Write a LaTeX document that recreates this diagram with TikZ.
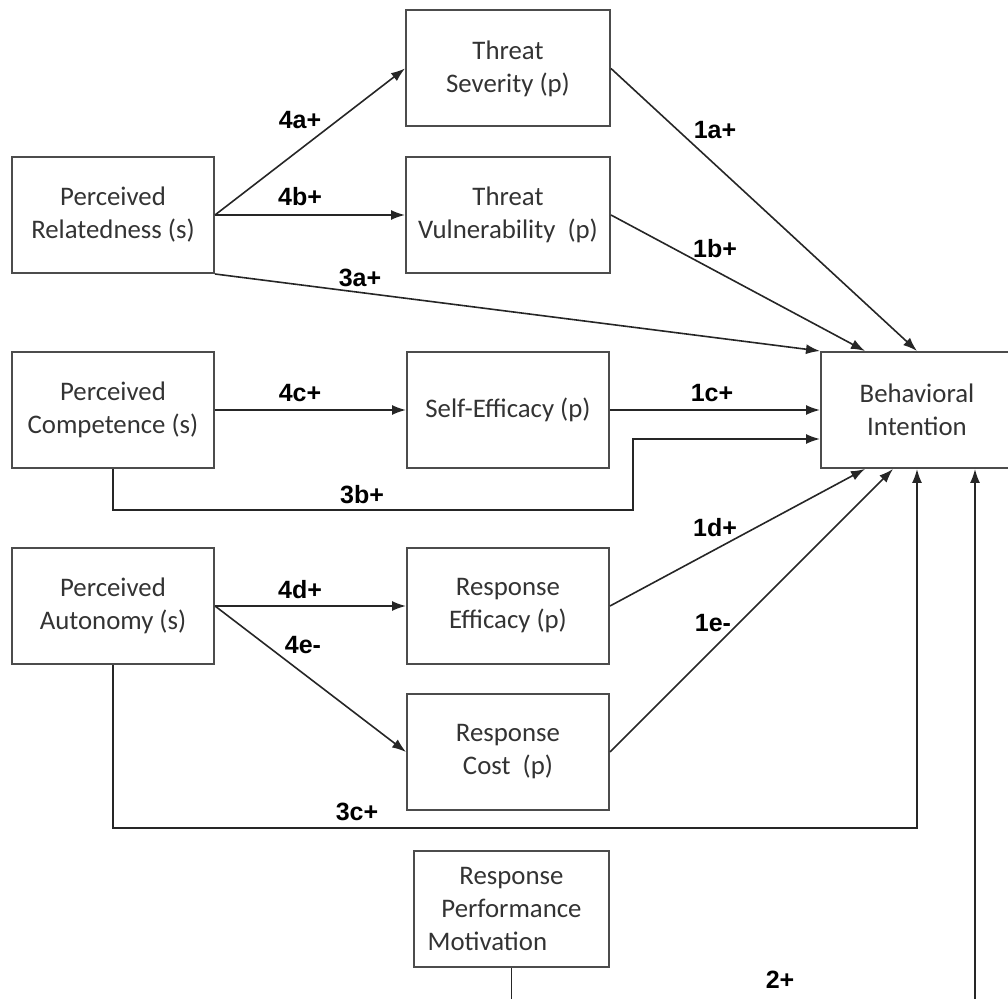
\documentclass[tikz,border=0pt]{standalone}
\usepackage{fontspec}
\setmainfont{Carlito}
\newfontfamily\labelfont{Liberation Sans}
\usetikzlibrary{arrows.meta}

\begin{document}
\begin{tikzpicture}[x=0.5pt, y=-0.5pt, >={Latex[length=7pt,width=5pt]},
    box/.style={draw=black!70, line width=1pt, align=center, minimum width=101pt,
      minimum height=58pt, inner sep=2pt, text=black!80,
      font=\fontsize{13.4}{16.5}\selectfont},
    link/.style={draw=black!85, line width=0.8pt, ->},
    lbl/.style={font=\labelfont\bfseries\fontsize{12.5}{14}\selectfont}]
    \useasboundingbox (0,0) rectangle (1008,999);
    \clip (0,0) rectangle (1008,999);

    % constructs
    \node[box] (rel) at (113,215) {Perceived\\Relatedness (s)};
    \node[box] (comp) at (113,410) {Perceived\\Competence (s)};
    \node[box] (auton) at (113,606) {Perceived\\Autonomy (s)};
    \node[box, minimum width=102pt] (sev) at (508,68.5) {Threat\\Severity (p)};
    \node[box, minimum width=102pt] (vul) at (508,215) {Threat\\Vulnerability~ (p)};
    \node[box, minimum width=101pt] (selfeff) at (508,410) {Self-Efficacy (p)};
    \node[box, minimum width=101pt] (respeff) at (508,606) {Response\\Efficacy (p)};
    \node[box, minimum width=101pt] (cost) at (508,752) {Response\\Cost~ (p)};
    \node[box, minimum width=97.5pt] (motiv) at (511.5,909) {Response\\Performance\\Motivation\hspace*{1.8em}};
    \node[box, minimum width=96pt] (intent) at (917,410) {Behavioral\\Intention};

    % paths 4a-4e
    \draw[link] (rel.east) -- (sev.west);
    \draw[link] (rel.east) -- (vul.west);
    \draw[link] (comp.east) -- (selfeff.west);
    \draw[link] (auton.east) -- (respeff.west);
    \draw[link] (auton.east) -- (cost.west);
    % paths 1a-1e
    \draw[link] (sev.east) -- (intent.north);
    \draw[link] (vul.east) -- (intent.north -| 865,0);
    \draw[link] (selfeff.east) -- (intent.west);
    \draw[link] (respeff.east) -- (intent.south -| 865,0);
    \draw[link] (cost.east) -- (intent.south -| 893,0);
    % paths 3a-3c and 2
    \draw[link] (rel.south east) -- (intent.north west);
    \draw[link] (comp.south) |- (633,510) |- (intent.west |- 0,439);
    \draw[link] (auton.south) |- (intent.south |- 0,828) -- (intent.south);
    \draw[link] (motiv.south) |- (975,1040) -- (intent.south -| 975,0);

    \node[lbl] (l4a) at (300,120) {4a+};
    \node[lbl] (l4b) at (300,197) {4b+};
    \node[lbl] (l3a) at (360,278) {3a+};
    \node[lbl] (l1a) at (715,130) {1a+};
    \node[lbl] (l1b) at (715,249) {1b+};
    \node[lbl] (l4c) at (300,393) {4c+};
    \node[lbl] (l1c) at (712,393) {1c+};
    \node[lbl] (l3b) at (362,495) {3b+};
    \node[lbl] (l1d) at (715,528) {1d+};
    \node[lbl] (l4d) at (300,590) {4d+};
    \node[lbl] (l4e) at (303,645) {4e-};
    \node[lbl] (l1e) at (713,623) {1e-};
    \node[lbl] (l3c) at (357,812) {3c+};
    \node[lbl] (l2) at (780,980) {2+};
\end{tikzpicture}
\end{document}
